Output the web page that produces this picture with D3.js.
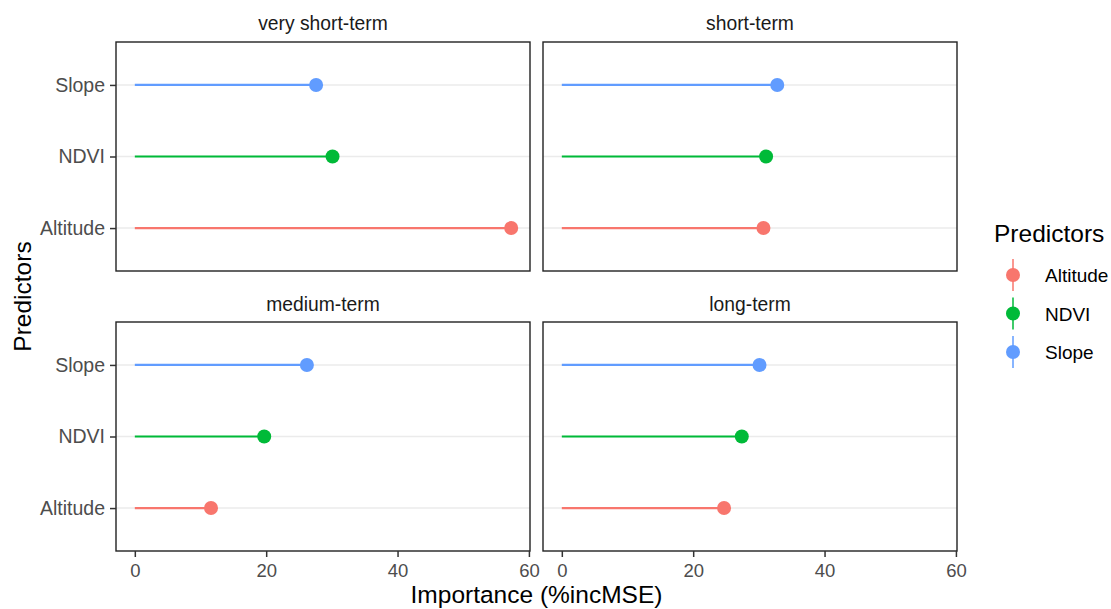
<!DOCTYPE html>
<html>
<head>
<meta charset="utf-8">
<script src="https://cdn.jsdelivr.net/npm/d3@7"></script>
<style>
  body { margin: 0; background: #fff; }
  text { font-family: "Liberation Sans", Arial, sans-serif; }
</style>
</head>
<body>
<svg id="chart" width="1111" height="609"></svg>
<script>
// data
var periods = ["very short-term", "short-term", "medium-term", "long-term"];
var predictors = ["Altitude", "NDVI", "Slope"];
var altitude = [57.3, 30.7, 11.6, 24.7];
var ndvi = [30.1, 31.1, 19.7, 27.4];
var slope = [27.6, 32.8, 26.2, 30.1];
var xTicks = [0, 20, 40, 60];
var colors = ["#F8766D", "#00BA38", "#619CFF"];

var svg = d3.select("#chart");

// panel grid
var cols = [116, 543], rows = [42, 322];
var pw = 414, ph = 229;

// ggplot style expansion of 5 percent
var maxV = d3.max([].concat(altitude, ndvi, slope));
var pad = maxV * 0.05;
var x = d3.scaleLinear().domain([-pad, maxV + pad]).range([0, pw]);
var y = d3.scalePoint().domain(predictors.slice().reverse()).range([0, ph]).padding(0.6);

var color = d3.scaleOrdinal().domain(predictors).range(colors);

var series = { "Altitude": altitude, "NDVI": ndvi, "Slope": slope };

periods.forEach(function(p, i) {
    var c = i % 2, r = Math.floor(i / 2);
    var g = svg.append("g").attr("transform", "translate(" + cols[c] + "," + rows[r] + ")");

    // strip title
    g.append("text")
        .attr("x", pw / 2).attr("y", r === 0 ? -12 : -11)
        .attr("text-anchor", "middle")
        .attr("font-size", 19.3).attr("fill", "#1a1a1a")
        .text(p);

    // horizontal grid
    g.selectAll(".grid").data(predictors).enter().append("line")
        .attr("x1", 0).attr("x2", pw)
        .attr("y1", function(d) { return y(d); })
        .attr("y2", function(d) { return y(d); })
        .attr("stroke", "#ebebeb").attr("stroke-width", 1.5);

    // segments
    g.selectAll(".seg").data(predictors).enter().append("line")
        .attr("x1", x(0))
        .attr("x2", function(d) { return x(series[d][i]); })
        .attr("y1", function(d) { return y(d); })
        .attr("y2", function(d) { return y(d); })
        .attr("stroke", function(d) { return color(d); })
        .attr("stroke-width", 2.2);

    // points
    g.selectAll(".pt").data(predictors).enter().append("circle")
        .attr("cx", function(d) { return x(series[d][i]); })
        .attr("cy", function(d) { return y(d); })
        .attr("r", 7)
        .attr("fill", function(d) { return color(d); });

    // border
    g.append("rect")
        .attr("width", pw).attr("height", ph)
        .attr("fill", "none").attr("stroke", "#222").attr("stroke-width", 1.4);

    if (c === 0) {
        var ya = g.append("g").call(d3.axisLeft(y).tickSize(6).tickPadding(5));
        ya.select(".domain").remove();
        ya.selectAll("line").attr("stroke", "#333").attr("stroke-width", 1.5);
        ya.selectAll("text").attr("font-size", 19.5).attr("fill", "#4d4d4d")
            .attr("font-family", "Liberation Sans, Arial, sans-serif");
    }
    if (r === 1) {
        var xa = g.append("g").attr("transform", "translate(0," + ph + ")")
            .call(d3.axisBottom(x).tickValues(xTicks).tickSize(6).tickPadding(7));
        xa.select(".domain").remove();
        xa.selectAll("line").attr("stroke", "#333").attr("stroke-width", 1.5);
        xa.selectAll("text").attr("font-size", 18.5).attr("fill", "#4d4d4d")
            .attr("font-family", "Liberation Sans, Arial, sans-serif");
    }
});

// axis titles
svg.append("text")
    .attr("x", (cols[0] + cols[1] + pw) / 2).attr("y", 603)
    .attr("text-anchor", "middle").attr("font-size", 24.5).attr("fill", "#000")
    .text("Importance (%incMSE)");

svg.append("text")
    .attr("transform", "translate(31," + ((rows[0] + rows[1] + ph) / 2) + ") rotate(-90)")
    .attr("text-anchor", "middle").attr("font-size", 24.5).attr("fill", "#000")
    .text("Predictors");

// legend
var lg = svg.append("g").attr("transform", "translate(995,0)");
lg.append("text").attr("x", -1).attr("y", 242)
    .attr("font-size", 24.5).attr("fill", "#000").text("Predictors");
var keys = lg.selectAll(".key").data(predictors).enter().append("g")
    .attr("transform", function(d, k) { return "translate(0," + (275 + k * 38.5) + ")"; });
keys.append("line")
    .attr("x1", 18).attr("x2", 18).attr("y1", -16).attr("y2", 16)
    .attr("stroke", function(d) { return color(d); }).attr("stroke-width", 1.5);
keys.append("circle")
    .attr("cx", 18).attr("cy", 0).attr("r", 7)
    .attr("fill", function(d) { return color(d); });
keys.append("text")
    .attr("x", 50).attr("y", 7)
    .attr("font-size", 19).attr("fill", "#000")
    .text(function(d) { return d; });
</script>
</body>
</html>
